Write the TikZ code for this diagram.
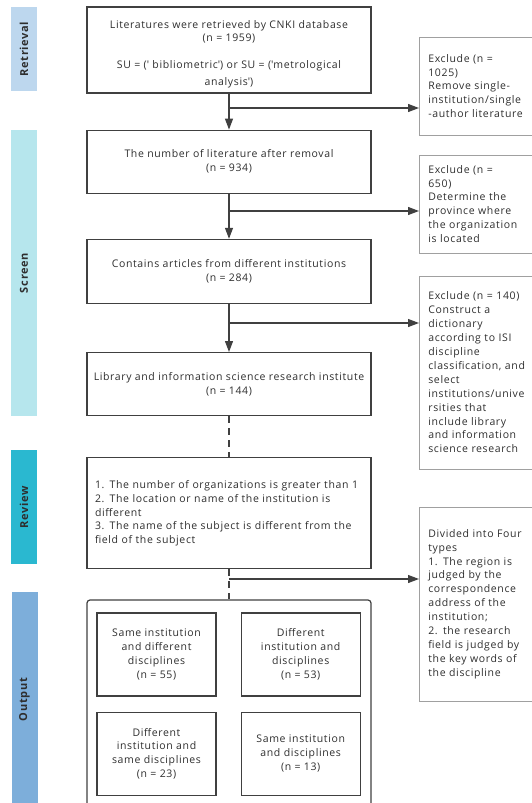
\documentclass[tikz,border=0pt]{standalone}
\usepackage{fontspec}
\setmainfont{Open Sans}[LetterSpace=6]
\usetikzlibrary{positioning,arrows.meta}

\definecolor{retrievalblue}{HTML}{BDD7EE}
\definecolor{screencyan}{HTML}{B6E6ED}
\definecolor{reviewteal}{HTML}{2AB8D0}
\definecolor{outputblue}{HTML}{7DAEDA}
\definecolor{inkgray}{HTML}{2E2E2E}
\definecolor{linegray}{HTML}{404040}
\definecolor{sidegray}{HTML}{A0A0A0}

\tikzset{
  phase/.style={rotate=90, minimum height=26pt, inner sep=0pt, text=inkgray,
    font=\fontsize{11}{13}\selectfont\bfseries},
  stage/.style={draw=linegray, line width=1.2pt, minimum width=284pt, inner sep=2pt,
    align=center, text=inkgray, font=\fontsize{10.5}{13.8}\selectfont},
  group/.style={draw=linegray, line width=1.2pt, minimum width=119pt, minimum height=83pt,
    inner sep=2pt, align=center, text=inkgray, font=\fontsize{10.5}{13.9}\selectfont},
  sidebox/.style={draw=sidegray, line width=0.7pt, anchor=west, text width=130pt,
    inner xsep=9pt, align=left, text=inkgray, font=\fontsize{10.5}{13.9}\selectfont},
  flow/.style={draw=linegray, line width=1.2pt, -{Triangle[length=11pt,width=8pt]}},
  dashline/.style={draw=linegray, line width=1.2pt, dash pattern=on 7pt off 5pt},
}

\begin{document}
\begin{tikzpicture}[x=1pt, y=-1pt]
\useasboundingbox (0,0) rectangle (532,803);
\clip (0,0) rectangle (532,803);

%% phase bars
\node[phase, fill=retrievalblue, minimum width=84pt] (retrieval) at (24,49) {Retrieval};
\node[phase, fill=screencyan, minimum width=286pt] (screen) at (24,273) {Screen};
\node[phase, fill=reviewteal, minimum width=114pt] (review) at (24,507) {Review};
\node[phase, fill=outputblue, minimum width=215pt] (outputbar) at (24.5,699.5) {Output};

%% main flow
\node[stage, minimum height=86pt] (retrieved) at (229,50) {\rule{0pt}{16pt}Literatures were retrieved by CNKI database\\(n = 1959)\\[13pt]SU = (\textquotesingle{} bibliometric\textquotesingle) or SU = (\textquotesingle metrological\\[3pt]analysis\textquotesingle)};
\node[stage, minimum height=63pt, below=36pt of retrieved] (removal) {The number of literature after removal\\(n = 934)};
\node[stage, minimum height=64pt, below=45pt of removal] (institutions) {Contains articles from different institutions\\(n = 284)};
\node[stage, minimum height=63pt, below=48pt of institutions] (library) {Library and information science research institute\\(n = 144)};
\node[stage, minimum height=111pt, text width=268pt, inner xsep=8pt, align=left, below=41pt of library] (criteria) {1. The number of organizations is greater than 1\\2. The location or name of the institution is\\different\\3. The name of the subject is different from the\\field of the subject};
\node[stage, rounded corners=3pt, minimum height=230pt, below=30pt of criteria] (output) {};

%% output types
\node[group, anchor=north west] (samediff) at ([xshift=10pt, yshift=-13pt]output.north west) {Same institution\\and different\\disciplines\\(n = 55)};
\node[group, right=24pt of samediff] (diffdiff) {Different\\institution and\\disciplines\\(n = 53)};
\node[group, below=15pt of samediff] (diffsame) {Different\\institution and\\same disciplines\\(n = 23)};
\node[group, below=15pt of diffdiff] (samesame) {Same institution\\and disciplines\\(n = 13)};

%% exclusions
\node[sidebox, minimum height=98pt] (exclude1) at (419,86) {Exclude (n =\\1025)\\Remove single-\\institution/single\\-author literature};
\node[sidebox, minimum height=98pt] (exclude2) at (419,204) {Exclude (n =\\650)\\Determine the\\province where\\the organization\\is located};
\node[sidebox, minimum height=193pt] (exclude3) at (419,372.5) {Exclude (n = 140)\\Construct a\\dictionary\\according to ISI\\discipline\\classification, and\\select\\institutions/unive\\rsities that\\include library\\and information\\science research};
\node[sidebox, minimum height=194pt] (divided) at (419,604) {Divided into Four\\types\\1. The region is\\judged by the\\correspondence\\address of the\\institution;\\2. the research\\field is judged by\\the key words of\\the discipline};

%% connectors
\draw[flow] (retrieved.south) -- (removal.north);
\draw[flow] (removal.south) -- (institutions.north);
\draw[flow] (institutions.south) -- (library.north);
\draw[dashline] (library.south) -- (criteria.north);
\draw[dashline] (criteria.south) -- (output.north);

\coordinate (split1) at (retrieved.south |- 0,108);
\coordinate (split2) at (removal.south |- 0,211);
\coordinate (split3) at (institutions.south |- 0,323);
\coordinate (split4) at (criteria.south |- 0,579);
\draw[flow] (split1) -- (split1 -| exclude1.west);
\draw[flow] (split2) -- (split2 -| exclude2.west);
\draw[flow] (split3) -- (split3 -| exclude3.west);
\draw[flow] (split4) -- (split4 -| divided.west);

\end{tikzpicture}
\end{document}
